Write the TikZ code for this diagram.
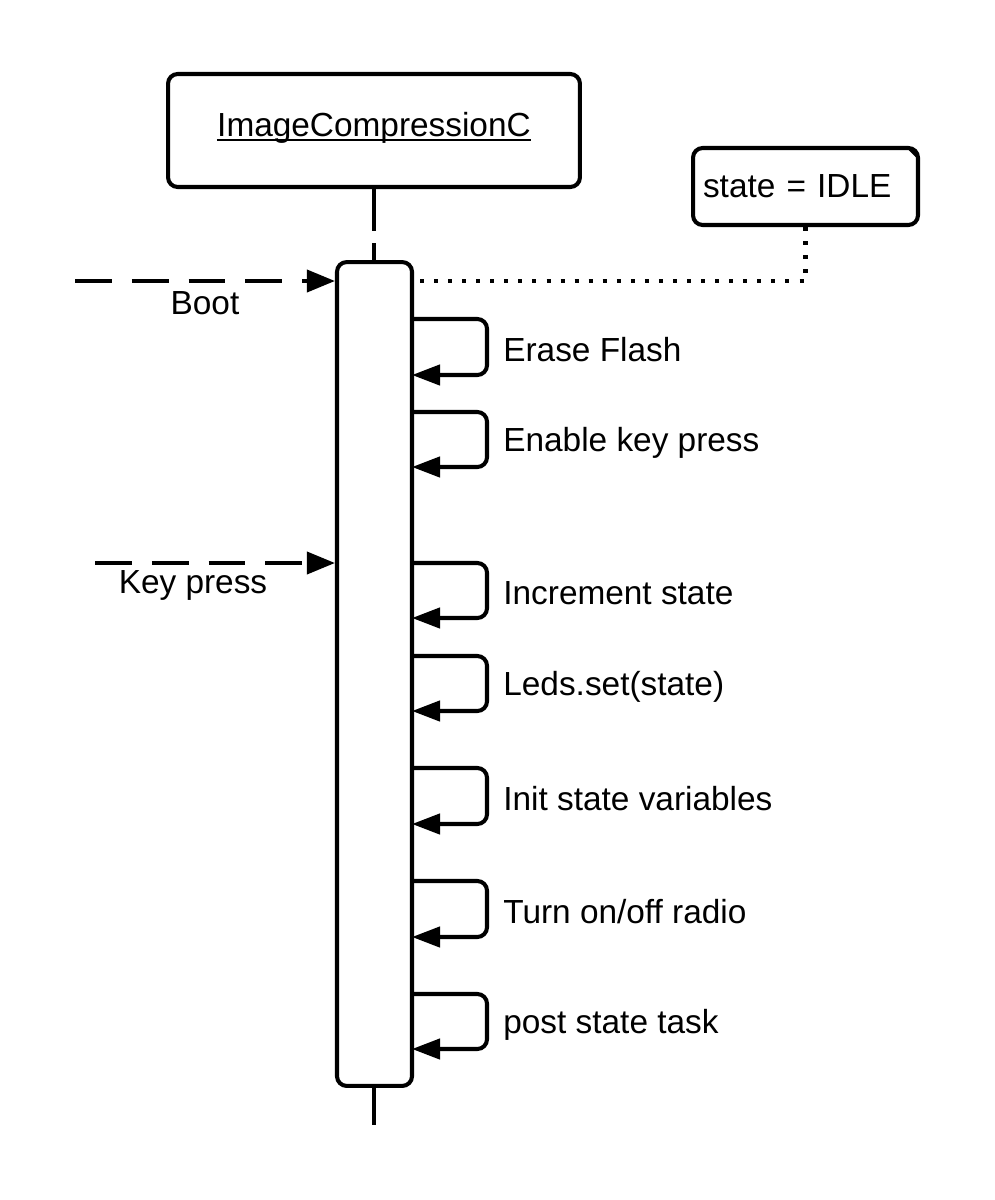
\documentclass[tikz,border=0pt]{standalone}
\usepackage{fontspec}
\setmainfont{Liberation Sans}
\usetikzlibrary{arrows.meta}

\tikzset{
  box/.style={draw, line width=2.3pt, rounded corners=5.5pt, fill=white},
  lbl/.style={font=\fontsize{19}{23}\selectfont, inner sep=0pt},
  call/.style={line width=2.3pt, dash pattern=on 21pt off 11.3pt, -{Triangle[length=16pt,width=12.5pt]}},
  self/.style={line width=2.3pt, rounded corners=5.5pt, -{Triangle[length=16pt,width=11.5pt]}}
}

\begin{document}
\begin{tikzpicture}[x=0.02cm, y=-0.02cm]
\useasboundingbox (0,0) rectangle (994,1200);

% Kopf und Lebenslinie
\node[box, minimum width=8.24cm, minimum height=2.26cm] (head) at (374,130.5) {};
\node[lbl] (headtext) at (374,128) {ImageCompressionC};
\draw[line width=1.2pt] ([yshift=-2pt]headtext.base west) -- ([yshift=-2pt]headtext.base east);
\coordinate (lifeend) at (374,1125);
\draw[line width=2.3pt, dash pattern=on 24pt off 7pt] (head.south) -- (374,262);
\draw[line width=2.3pt] (374,1080) -- (lifeend);
\node[box, minimum width=1.5cm, minimum height=16.48cm] (act) at (374.5,674) {};

% Notiz
\node[box, lbl, inner xsep=0.2cm, text width=4.1cm, align=left,
      minimum height=1.54cm] (note) at (805.5,186.5) {state = IDLE};
\fill (908,149.5) -- (916.5,149.5) -- (916.5,158) -- cycle;
\coordinate (dotstart) at (420,281);
\draw[line width=2.3pt, dash pattern=on 2.3pt off 5.7pt] (dotstart) -- (dotstart -| note.south) -- (note.south);

% eingehende Aufrufe
\coordinate (boot) at (75,281);
\draw[call] (boot) -- (boot -| act.west);
\node[lbl] (boottext) at (205,303) {Boot};
\coordinate (key) at (95,563);
\draw[call] (key) -- (key -| act.west);
\node[lbl] (keytext) at (193,585) {Key press};

% Selbstaufrufe
\foreach \top/\bot/\txt [count=\i] in {319/375/{Erase Flash}, 412/467/{Enable key press},
    563/618/{Increment state}, 656/711/{Leds.set(state)}, 768/824/{Init state variables},
    881/937/{Turn on/off radio}, 994/1049/{post state task}}{
  \coordinate (s\i) at (412,\top);
  \coordinate (e\i) at (412,\bot);
  \draw[self] (s\i) -- (487,\top) -- (487,\bot) -- (e\i);
  \node[lbl, anchor=west] (m\i) at (503,{(\top+\bot)/2+3}) {\txt};
}
\end{tikzpicture}
\end{document}
